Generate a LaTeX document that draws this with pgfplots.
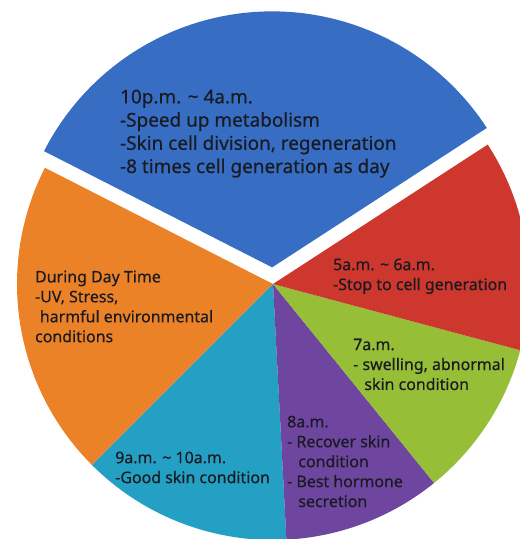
\documentclass[border=0pt]{standalone}
\usepackage{pgfplots}
\pgfplotsset{compat=1.18}
\usepackage{fontspec}
\setmainfont{Noto Sans}
\newfontfamily\lbl[FakeBold=0.4]{Noto Sans}
\definecolor{cBlue}{HTML}{376EC3}
\definecolor{cRed}{HTML}{CD372D}
\definecolor{cGreen}{HTML}{96BE37}
\definecolor{cPurple}{HTML}{6E46A0}
\definecolor{cCyan}{HTML}{23A0C3}
\definecolor{cOrange}{HTML}{EB8228}
\definecolor{txt}{HTML}{1A1A22}
\begin{document}
\begin{tikzpicture}
\begin{axis}[
  scale only axis, width=520bp, height=539bp,
  xmin=-1.0664, xmax=0.9648, ymin=-0.9961, ymax=1.1094,
  axis lines=none, ticks=none, clip=true,
  samples=120,
  every axis plot/.append style={variable=\t, draw=none},
]
% slice angles (degrees): blue 120, red 48, green 36, purple 36, cyan 48, orange 72
\addplot[fill=cOrange, domain=153:225, samples=120] ({cos(\t)},{sin(\t)}) -- (axis cs:0,0) -- cycle;
\addplot[fill=cCyan,   domain=225:273, samples=120] ({cos(\t)},{sin(\t)}) -- (axis cs:0,0) -- cycle;
\addplot[fill=cPurple, domain=273:309, samples=120] ({cos(\t)},{sin(\t)}) -- (axis cs:0,0) -- cycle;
\addplot[fill=cGreen,  domain=309:345, samples=120] ({cos(\t)},{sin(\t)}) -- (axis cs:0,0) -- cycle;
\addplot[fill=cRed,    domain=345:393, samples=120] ({cos(\t)},{sin(\t)}) -- (axis cs:0,0) -- cycle;
\addplot[fill=cBlue,   domain=33:153, samples=160] ({-0.0034+cos(\t)},{0.065+sin(\t)}) -- (axis cs:-0.0034,0.065) -- cycle;

\node[anchor=north west, inner sep=0, align=left, text=txt,
  font=\lbl\fontsize{19}{23.3}\selectfont] at (axis cs:-0.598,0.760)
  {10p.m. \textasciitilde{} 4a.m.\\-Speed up metabolism\\-Skin cell division, regeneration\\-8 times cell generation as day};
\node[anchor=north west, inner sep=0, align=left, text=txt,
  font=\lbl\fontsize{16}{20}\selectfont] at (axis cs:0.234,0.100)
  {5a.m. \textasciitilde{} 6a.m.\\-Stop to cell generation};
\node[anchor=north west, inner sep=0, align=left, text=txt,
  font=\lbl\fontsize{16}{20}\selectfont] at (axis cs:0.3125,-0.213)
  {7a.m.\\- swelling, abnormal\\\hspace*{0.7em}skin condition};
\node[anchor=north west, inner sep=0, align=left, text=txt,
  font=\lbl\fontsize{16}{20}\selectfont] at (axis cs:0.0547,-0.514)
  {8a.m.\\- Recover skin\\\hspace*{0.7em}condition\\- Best hormone\\\hspace*{0.7em}secretion};
\node[anchor=north west, inner sep=0, align=left, text=txt,
  font=\lbl\fontsize{16}{20}\selectfont] at (axis cs:-0.617,-0.654)
  {9a.m. \textasciitilde{} 10a.m.\\-Good skin condition};
\node[anchor=north west, inner sep=0, align=left, text=txt,
  font=\lbl\fontsize{16}{20}\selectfont] at (axis cs:-0.930,0.053)
  {During Day Time\\-UV, Stress,\\\hspace*{0.3em}harmful environmental\\conditions};
\end{axis}
\pgfresetboundingbox
\path[use as bounding box] (current axis.south west) rectangle (current axis.north east);
\end{tikzpicture}
\end{document}
